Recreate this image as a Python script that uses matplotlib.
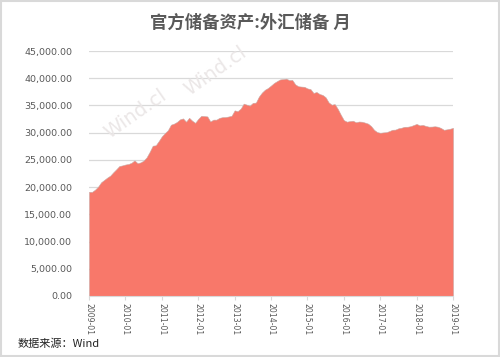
import numpy as np
import matplotlib.pyplot as plt

plt.rcParams['font.family'] = ['Noto Sans CJK SC', 'DejaVu Sans']

# monthly FX reserves, 100 million USD, 2009-01 .. 2019-01
reserves = [
    19134, 19121, 19537, 20089, 20895, 21316, 21746, 22108, 22726, 23283, 23875, 23992,
    24153, 24245, 24471, 24905, 24395, 24543, 24868, 25481, 26483, 27608, 27681, 28473,
    29317, 29914, 30447, 31467, 31661, 31975, 32453, 32625, 32017, 32738, 32209, 31811,
    32536, 33096, 33050, 32989, 32061, 32400, 32400, 32730, 32851, 32874, 32977, 33116,
    34100, 33954, 34426, 35345, 35148, 34967, 35478, 35530, 36627, 37366, 37895, 38213,
    38666, 39137, 39481, 39788, 39839, 39932, 39662, 39688, 38877, 38529, 38473, 38430,
    38134, 38015, 37300, 37481, 37111, 36938, 36513, 35574, 35141, 35255, 34383, 33304,
    32309, 32023, 32126, 32197, 31917, 32052, 32011, 31851, 31664, 31206, 30516, 30105,
    29982, 30051, 30091, 30295, 30536, 30568, 30807, 30915, 31085, 31092, 31193, 31399,
    31615, 31345, 31428, 31249, 31106, 31121, 31179, 31097, 30870, 30531, 30617, 30727,
    30879,
]
year_labels = ["%d-01" % y for y in range(2009, 2020)]
y_ticks = [0, 5000, 10000, 15000, 20000, 25000, 30000, 35000, 40000, 45000]

TEXT = "#595959"
GRID = "#d9d9d9"
FILL = "#f8786a"

fig = plt.figure(figsize=(5, 3.57), dpi=100, facecolor="white")

# thin frame around the whole picture
frame = plt.Rectangle((0.002, 0.003), 0.996, 0.994, transform=fig.transFigure,
                      fill=False, edgecolor="#d9d9d9", linewidth=1.5)
fig.patches.append(frame)

fig.text(0.5, 0.935, "官方储备资产:外汇储备 月", ha="center", va="center",
         fontsize=12.5, fontweight="bold", color=TEXT)

ax = fig.add_axes([0.178, 0.171, 0.728, 0.686])
x = np.arange(len(reserves))
ax.fill_between(x, reserves, 0, color=FILL, edgecolor="#c9a9a4", linewidth=0.4, zorder=2)

ax.set_xlim(0, len(reserves) - 1)
ax.set_ylim(0, 45000)
ax.set_yticks(y_ticks)
ax.set_yticklabels(["{:,.2f}".format(v) for v in y_ticks], fontsize=6.8, color=TEXT,
                   family="DejaVu Sans")
ax.set_xticks(np.arange(0, len(reserves), 12))
ax.set_xticklabels(year_labels, rotation=-90, fontsize=5.6, color=TEXT,
                   family="DejaVu Sans")
ax.tick_params(axis="y", length=0, pad=12)
ax.tick_params(axis="x", length=3, color=GRID, pad=2)
ax.grid(axis="y", color=GRID, linewidth=0.9, zorder=0)
ax.set_axisbelow(True)
for side in ("top", "right", "left"):
    ax.spines[side].set_visible(False)
ax.spines["bottom"].set_color(GRID)

# faint watermarks
for wx, wy in [(0.27, 0.68), (0.43, 0.80)]:
    fig.text(wx, wy, "Wind.cl", rotation=35, fontsize=14, color="#ebe7e7",
             ha="center", va="center", zorder=0, family="DejaVu Sans")

fig.text(0.036, 0.038, "数据来源：Wind", fontsize=8, color="#222222", va="center")

fig.savefig("out.png", dpi=100, facecolor="white")
